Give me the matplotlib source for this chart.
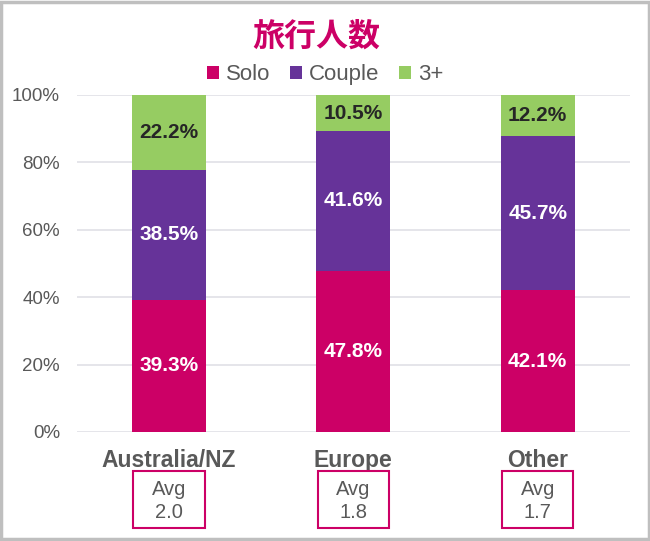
import numpy as np
import matplotlib.pyplot as plt
from matplotlib.patches import Rectangle

# Datos
regiones = ['Australia/NZ', 'Europe', 'Other']
solo = [39.3, 47.8, 42.1]
pareja = [38.5, 41.6, 45.7]
tres_mas = [22.2, 10.5, 12.2]
medias = ['2.0', '1.8', '1.7']

series = [('Solo', solo, '#CC0066', 'white'),
          ('Couple', pareja, '#663399', 'white'),
          ('3+', tres_mas, '#96CC62', '#262626')]

plt.rcParams['font.family'] = ['Liberation Sans', 'DejaVu Sans']

fig = plt.figure(figsize=(6.5, 5.41), dpi=100)
ax = fig.add_axes([0.118, 0.2015, 0.851, 0.6229])

x = np.arange(len(regiones))
base = np.zeros(len(regiones))
for nombre, vals, color, tcolor in series:
    vals = np.array(vals)
    barras = ax.bar(x, vals, 0.4, bottom=base, color=color, label=nombre, zorder=3)
    ax.bar_label(barras, labels=[f'{v:.1f}%' for v in vals], label_type='center',
                 color=tcolor, fontsize=15, fontweight='bold')
    base += vals

ax.set_xlim(-0.5, 2.5)
ax.set_ylim(0, 100)
ax.set_yticks(np.arange(0, 101, 20))
ax.set_yticklabels([f'{v}%' for v in range(0, 101, 20)], color='#595959', fontsize=13.5)
ax.set_xticks(x)
ax.set_xticklabels(regiones, color='#595959', fontsize=16.5, fontweight='bold')
ax.tick_params(length=0, axis='y', pad=12)
ax.tick_params(length=0, axis='x', pad=12)
ax.grid(axis='y', color='#E0E0E6', linewidth=1.2, zorder=0)
for s in ax.spines.values():
    s.set_visible(False)

# Cajas con la media
for i, m in enumerate(medias):
    xc = ax.transData.transform((i, 0))[0] / fig.bbox.width
    fig.patches.append(Rectangle((xc - 0.055, 0.024), 0.11, 0.105, transform=fig.transFigure,
                                 fill=False, edgecolor='#CC0066', linewidth=1.5))
    fig.text(xc, 0.074, f'Avg\n{m}', ha='center', va='center', color='#595959',
             fontsize=14.5, linespacing=1.25)

fig.text(0.487, 0.932, '旅行人数', ha='center', va='center', color='#CC0066',
         fontsize=23, fontweight='bold', family=['Noto Sans CJK JP', 'DejaVu Sans'])
fig.legend(loc='center', bbox_to_anchor=(0.5, 0.862), ncol=3, frameon=False,
           fontsize=16, handlelength=0.55, handleheight=0.55, handletextpad=0.3,
           columnspacing=0.9, labelcolor='#595959')

# Borde exterior
fig.patches.append(Rectangle((0.002, 0.003), 0.996, 0.994, transform=fig.transFigure,
                             fill=False, edgecolor='#BFBFBF', linewidth=2.5))

fig.savefig('out.png', dpi=100)
